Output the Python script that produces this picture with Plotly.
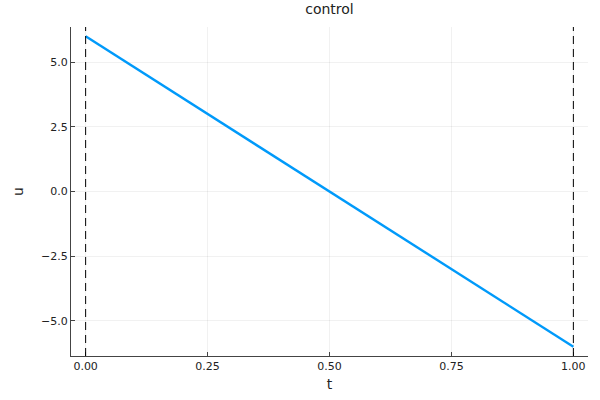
import plotly.graph_objects as go

t = [0.0, 1.0]
u = [6.0, -6.0]
bounds = [0.0, 1.0]
xticks = [0.0, 0.25, 0.5, 0.75, 1.0]
xtick_text = ["0.00", "0.25", "0.50", "0.75", "1.00"]
yticks = [-5.0, -2.5, 0.0, 2.5, 5.0]
ytick_text = ["\u22125.0", "\u22122.5", "0.0", "2.5", "5.0"]

fig = go.Figure()
fig.add_trace(go.Scatter(x=t, y=u, mode="lines",
                         line=dict(color="#009AFA", width=2.4), showlegend=False))
for b in bounds:
    fig.add_vline(x=b, line=dict(color="black", width=1, dash="8px,5px"))

pad_x = 0.03 * (max(t) - min(t))
pad_y = 0.03 * (max(u) - min(u))
axis = dict(showline=True, linecolor="#444", linewidth=1, mirror=False,
            ticks="inside", ticklen=4, tickcolor="#444", automargin=False,
            showgrid=True, gridcolor="rgba(0,0,0,0.055)", gridwidth=0.6,
            zeroline=False, tickfont=dict(size=11, color="#222"),
            title_font=dict(size=14, color="#222"))
fig.update_xaxes(axis, range=[min(t) - pad_x, max(t) + pad_x],
                 tickvals=xticks, ticktext=xtick_text, title_text="t",
                 title_standoff=6)
fig.update_yaxes(axis, range=[min(u) - pad_y, max(u) + pad_y],
                 tickvals=yticks, ticktext=ytick_text, title_text="u",
                 title_standoff=14)
fig.update_layout(
    width=600, height=400,
    margin=dict(l=71, r=12, t=27, b=44),
    plot_bgcolor="white", paper_bgcolor="white",
    font=dict(family="DejaVu Sans", color="#222"),
    title=dict(text="control", x=0.5, xanchor="center", y=1 - 9 / 400,
               yanchor="middle", xref="paper", automargin=False,
               font=dict(size=14, color="#222")),
)
# page default margin would shift the figure by 8px
fig.write_html("out.html", config={"displayModeBar": False},
               post_script="document.body.style.margin='0';")
